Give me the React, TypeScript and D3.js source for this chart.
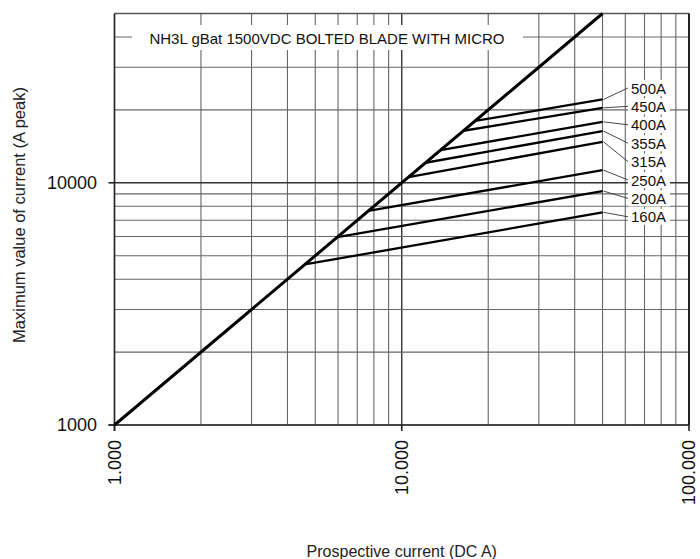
import React from "react";
import { scaleLog, line, range } from "d3";

// fuse ratings, current where each curve leaves the diagonal, and peak at 50 kA
const fuseRatings = ["160A", "200A", "250A", "315A", "355A", "400A", "450A", "500A"];
const startCurrent = [4600, 5970, 7650, 10560, 12100, 13650, 16400, 18000];
const endPeak = [7550, 9240, 11280, 14760, 16350, 17850, 20400, 22100];
const endCurrent = 50000;

const xTickValues = [1000, 10000, 100000];
const xTickLabels = ["1.000", "10.000", "100.000"];
const yTickValues = [1000, 10000];
const yTickLabels = ["1000", "10000"];

const title = "NH3L gBat 1500VDC BOLTED BLADE WITH MICRO";
const xTitle = "Prospective current (DC A)";
const yTitle = "Maximum value of current (A peak)";

const W = 700;
const H = 559;
const left = 114.5;
const right = 689;
const top = 13.5;
const bottom = 425;

const font = "'Liberation Sans', Arial, sans-serif";

export default function App() {
  const x = scaleLog().domain([1000, 100000]).range([left, right]);
  const y = scaleLog().domain([1000, 50000]).range([bottom, top]);

  // minor + major grid values
  const xGrid = [1000, 10000].flatMap((d) => range(1, 10).map((k) => k * d)).concat([100000]);
  const yGrid = [1000, 10000]
    .flatMap((d) => range(1, 10).map((k) => k * d))
    .filter((v) => v <= 50000);

  const path = line<[number, number]>()
    .x((d) => x(d[0]))
    .y((d) => y(d[1]));

  const curves = fuseRatings.map((name, i) => ({
    name,
    pts: [
      [startCurrent[i], startCurrent[i]],
      [endCurrent, endPeak[i]],
    ] as [number, number][],
  }));

  // label column on the right, stacked top (500A) to bottom (160A)
  const labelTop = 88;
  const labelStep = 18.4;
  const labelX = 631;

  return (
    <svg
      width={W}
      height={H}
      style={{ position: "absolute", left: 0, top: 0, background: "#fff" }}
    >
      {/* grid */}
      <g>
        {xGrid.map((v) => (
          <line
            key={"gx" + v}
            x1={x(v)}
            x2={x(v)}
            y1={top}
            y2={bottom}
            stroke={v === 10000 ? "#333" : "#666"}
            strokeWidth={v === 10000 ? 1.4 : 1.1}
          />
        ))}
        {yGrid.map((v) => (
          <line
            key={"gy" + v}
            x1={left}
            x2={right}
            y1={y(v)}
            y2={y(v)}
            stroke={v === 10000 ? "#333" : "#666"}
            strokeWidth={v === 10000 ? 1.4 : 1.1}
          />
        ))}
      </g>

      {/* frame */}
      <line x1={left} x2={right} y1={top} y2={top} stroke="#555" strokeWidth={1.6} />
      <line x1={right} x2={right} y1={top} y2={bottom} stroke="#222" strokeWidth={2} />
      <line x1={left} x2={left} y1={top} y2={bottom + 6} stroke="#222" strokeWidth={1.6} />
      <line x1={left - 6} x2={right} y1={bottom} y2={bottom} stroke="#222" strokeWidth={1.6} />

      {/* title box */}
      <rect x={132} y={25} width={391} height={25} fill="#fff" />
      <text
        x={327}
        y={38}
        textAnchor="middle"
        dominantBaseline="central"
        fontFamily={font}
        fontSize={15}
        fill="#111"
      >
        {title}
      </text>

      {/* diagonal */}
      <path
        d={path([
          [1000, 1000],
          [50000, 50000],
        ])!}
        fill="none"
        stroke="#000"
        strokeWidth={3}
      />

      {/* fuse curves */}
      {curves.map((c) => (
        <path key={c.name} d={path(c.pts)!} fill="none" stroke="#000" strokeWidth={2.3} />
      ))}

      {/* labels with leaders */}
      {curves.map((c, i) => {
        const ly = labelTop + (curves.length - 1 - i) * labelStep;
        const ex = x(endCurrent);
        const ey = y(endPeak[i]);
        return (
          <g key={"l" + c.name}>
            <rect x={labelX - 3} y={ly - 8} width={42} height={16} fill="#fff" />
            <line x1={ex + 1} y1={ey} x2={labelX - 3} y2={ly} stroke="#333" strokeWidth={0.9} />
            <text
              x={labelX}
              y={ly}
              dominantBaseline="central"
              fontFamily={font}
              fontSize={15}
              fill="#111"
            >
              {c.name}
            </text>
          </g>
        );
      })}

      {/* x ticks */}
      {xTickValues.map((v, i) => (
        <g key={"xt" + v}>
          <line x1={x(v)} x2={x(v)} y1={bottom} y2={bottom + 6} stroke="#222" strokeWidth={1.6} />
          <text
            transform={`translate(${x(v)},${bottom + 15}) rotate(-90)`}
            textAnchor="end"
            dominantBaseline="central"
            fontFamily={font}
            fontSize={18}
            fill="#111"
          >
            {xTickLabels[i]}
          </text>
        </g>
      ))}

      {/* y ticks */}
      {yTickValues.map((v, i) => (
        <g key={"yt" + v}>
          <line x1={left - 6} x2={left} y1={y(v)} y2={y(v)} stroke="#222" strokeWidth={1.6} />
          <text
            x={97}
            y={y(v)}
            textAnchor="end"
            dominantBaseline="central"
            fontFamily={font}
            fontSize={18}
            fill="#111"
          >
            {yTickLabels[i]}
          </text>
        </g>
      ))}

      {/* axis titles */}
      <text
        x={(left + right) / 2}
        y={551}
        textAnchor="middle"
        dominantBaseline="central"
        fontFamily={font}
        fontSize={16}
        fill="#222"
      >
        {xTitle}
      </text>
      <text
        transform={`translate(18.5,215) rotate(-90)`}
        textAnchor="middle"
        dominantBaseline="central"
        fontFamily={font}
        fontSize={16.5}
        fill="#222"
      >
        {yTitle}
      </text>
    </svg>
  );
}
